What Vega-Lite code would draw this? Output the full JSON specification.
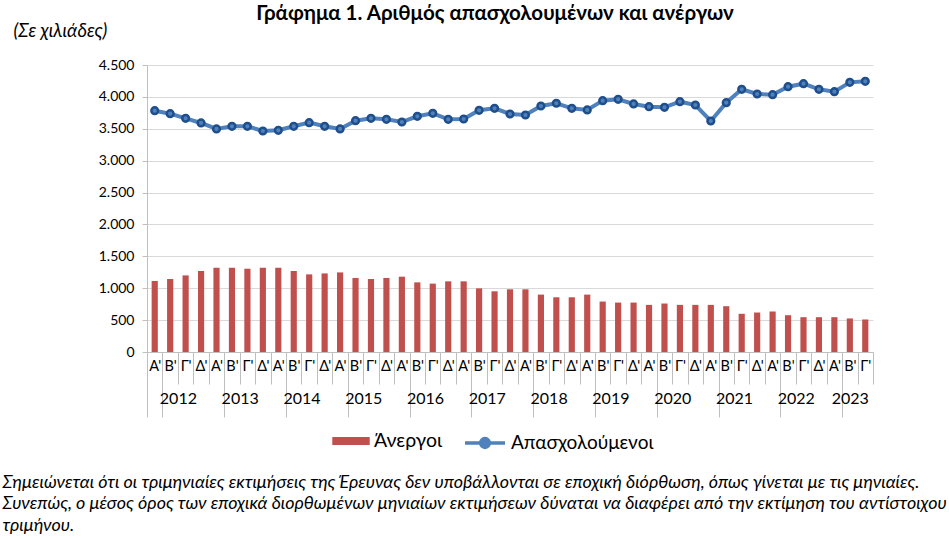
{
  "$schema": "https://vega.github.io/schema/vega-lite/v6.json",
  "width": 726,
  "height": 287,
  "autosize": {"type": "none"},
  "padding": {"left": 147, "top": 65, "right": 76, "bottom": 187},
  "background": "white",
  "config": {"view": {"stroke": null}, "font": "Lato"},
  "title": {"text": "Γράφημα 1. Αριθμός απασχολουμένων και ανέργων", "font": "Lato", "fontSize": 20.5, "fontWeight": "bold", "anchor": "middle", "dx": -15, "offset": -3, "color": "#000"},
  "data": {"values": [
    {"period": "2012 Α'", "employed": 3784, "unemployed": 1114},
    {"period": "2012 Β'", "employed": 3737, "unemployed": 1145},
    {"period": "2012 Γ'", "employed": 3664, "unemployed": 1201},
    {"period": "2012 Δ'", "employed": 3591, "unemployed": 1270},
    {"period": "2013 Α'", "employed": 3497, "unemployed": 1321},
    {"period": "2013 Β'", "employed": 3539, "unemployed": 1321},
    {"period": "2013 Γ'", "employed": 3539, "unemployed": 1306},
    {"period": "2013 Δ'", "employed": 3465, "unemployed": 1321},
    {"period": "2014 Α'", "employed": 3476, "unemployed": 1321},
    {"period": "2014 Β'", "employed": 3539, "unemployed": 1270},
    {"period": "2014 Γ'", "employed": 3596, "unemployed": 1217},
    {"period": "2014 Δ'", "employed": 3539, "unemployed": 1232},
    {"period": "2015 Α'", "employed": 3497, "unemployed": 1248},
    {"period": "2015 Β'", "employed": 3627, "unemployed": 1161},
    {"period": "2015 Γ'", "employed": 3664, "unemployed": 1145},
    {"period": "2015 Δ'", "employed": 3648, "unemployed": 1161},
    {"period": "2016 Α'", "employed": 3606, "unemployed": 1181},
    {"period": "2016 Β'", "employed": 3696, "unemployed": 1092},
    {"period": "2016 Γ'", "employed": 3743, "unemployed": 1072},
    {"period": "2016 Δ'", "employed": 3648, "unemployed": 1108},
    {"period": "2017 Α'", "employed": 3653, "unemployed": 1108},
    {"period": "2017 Β'", "employed": 3790, "unemployed": 998},
    {"period": "2017 Γ'", "employed": 3821, "unemployed": 952},
    {"period": "2017 Δ'", "employed": 3732, "unemployed": 983},
    {"period": "2018 Α'", "employed": 3716, "unemployed": 983},
    {"period": "2018 Β'", "employed": 3857, "unemployed": 900},
    {"period": "2018 Γ'", "employed": 3900, "unemployed": 858},
    {"period": "2018 Δ'", "employed": 3821, "unemployed": 858},
    {"period": "2019 Α'", "employed": 3795, "unemployed": 900},
    {"period": "2019 Β'", "employed": 3941, "unemployed": 791},
    {"period": "2019 Γ'", "employed": 3962, "unemployed": 775},
    {"period": "2019 Δ'", "employed": 3889, "unemployed": 775},
    {"period": "2020 Α'", "employed": 3847, "unemployed": 739},
    {"period": "2020 Β'", "employed": 3837, "unemployed": 760},
    {"period": "2020 Γ'", "employed": 3925, "unemployed": 739},
    {"period": "2020 Δ'", "employed": 3873, "unemployed": 739},
    {"period": "2021 Α'", "employed": 3622, "unemployed": 739},
    {"period": "2021 Β'", "employed": 3909, "unemployed": 718},
    {"period": "2021 Γ'", "employed": 4119, "unemployed": 599},
    {"period": "2021 Δ'", "employed": 4045, "unemployed": 619},
    {"period": "2022 Α'", "employed": 4035, "unemployed": 635},
    {"period": "2022 Β'", "employed": 4160, "unemployed": 577},
    {"period": "2022 Γ'", "employed": 4207, "unemployed": 546},
    {"period": "2022 Δ'", "employed": 4119, "unemployed": 546},
    {"period": "2023 Α'", "employed": 4082, "unemployed": 546},
    {"period": "2023 Β'", "employed": 4228, "unemployed": 526},
    {"period": "2023 Γ'", "employed": 4244, "unemployed": 510}
  ]},
  "resolve": {"axis": {"x": "independent"}},
  "layer": [
    {
      "mark": {"type": "bar", "width": {"band": 0.4}},
      "encoding": {
        "x": {"field": "period", "type": "ordinal", "sort": null,
          "scale": {"paddingInner": 0, "paddingOuter": 0},
          "axis": {"orient": "bottom", "title": null, "labelExpr": "datum.extra ? '' : substring(datum.value + '', 5)", "labelAngle": 0, "tickBand": "extent", "tickSize": 32, "tickColor": "#BFBFBF", "domainColor": "#BFBFBF", "labelPadding": -25, "labelFontSize": 14.5, "labelColor": "#000", "labelFont": "Lato", "labelOverlap": false, "labelBound": false, "grid": false}},
        "y": {"field": "unemployed", "type": "quantitative",
          "scale": {"domain": [0, 4500], "nice": false},
          "axis": {"title": "(Σε χιλιάδες)", "titleAngle": 0, "titleAlign": "left", "titleX": -134, "titleY": -35, "titleBaseline": "middle", "titleFontStyle": "italic", "titleFontWeight": "normal", "titleFontSize": 18.5, "titleColor": "#000", "titleFont": "Lato",
            "values": [0, 500, 1000, 1500, 2000, 2500, 3000, 3500, 4000, 4500], "tickCount": 10,
            "labelExpr": "replace(format(datum.value, ','), ',', '.')",
            "labelOverlap": false, "labelBound": false,
            "domainColor": "#BFBFBF", "tickColor": "#BFBFBF", "tickSize": 5, "grid": true, "gridColor": "#D9D9D9", "labelPadding": 8, "labelFontSize": 14, "labelColor": "#000", "labelFont": "Lato"}},
        "fill": {"datum": "Άνεργοι", "type": "nominal", "scale": {"range": ["#C0504D"]},
          "legend": {"orient": "none", "legendX": 185, "legendY": 357, "title": null, "symbolType": "M-1,-0.22H1V0.22H-1Z", "symbolSize": 1400, "symbolStrokeWidth": 0, "labelFontSize": 19.5, "labelFont": "Lato", "labelColor": "#000"}}
      }
    },
    {
      "mark": {"type": "line", "strokeWidth": 4},
      "encoding": {
        "x": {"field": "period", "type": "ordinal", "sort": null,
          "axis": {"orient": "bottom", "domain": false, "grid": false, "tickBand": "extent", "tickSize": 65, "tickColor": "#BFBFBF",
            "tickOpacity": {"condition": {"test": "datum.extra || indexof(datum.value + '', 'Α') >= 0", "value": 1}, "value": 0},
            "labelExpr": "indexof(datum.value + '', 'Β') >= 0 ? substring(datum.value + '', 0, 4) : ''",
            "labelOffset": {"condition": {"test": "indexof(datum.value + '', '2023') >= 0", "value": 0}, "value": 7.72},
            "labelAngle": 0, "labelPadding": -27, "labelFontSize": 16, "labelColor": "#000", "labelFont": "Lato", "labelOverlap": false, "labelBound": false,
            "title": ["Σημειώνεται ότι οι τριμηνιαίες εκτιμήσεις της Έρευνας δεν υποβάλλονται σε εποχική διόρθωση, όπως γίνεται με τις μηνιαίες.", "Συνεπώς, ο μέσος όρος των εποχικά διορθωμένων μηνιαίων εκτιμήσεων δύναται να διαφέρει από την εκτίμηση του αντίστοιχου", "τριμήνου."],
            "titleFontStyle": "italic", "titleFontWeight": "normal", "titleAlign": "left", "titleAnchor": "start", "titleX": -145, "titleY": 121, "titleBaseline": "top", "titleLineHeight": 21.5, "titleFontSize": 17.9, "titleColor": "#000", "titleFont": "Lato"}},
        "y": {"field": "employed", "type": "quantitative",
          "axis": {"title": "(Σε χιλιάδες)", "values": [0, 500, 1000, 1500, 2000, 2500, 3000, 3500, 4000, 4500], "tickCount": 10, "labelOverlap": false, "labelBound": false, "grid": true}},
        "stroke": {"datum": "Απασχολούμενοι", "type": "nominal", "scale": {"range": ["#4F81BD"]},
          "legend": {"orient": "none", "legendX": 316, "legendY": 356, "title": null, "symbolType": "M-1,0H-0.28M0.28,0H1M0.22,0A0.22,0.22,0,1,1,-0.22,0A0.22,0.22,0,1,1,0.22,0", "symbolSize": 1600, "symbolStrokeWidth": 3.5, "symbolFillColor": "#4F81BD", "labelFontSize": 19, "labelFont": "Lato", "labelColor": "#000"}}
      }
    },
    {
      "mark": {"type": "point", "filled": true, "fill": "#4F81BD", "stroke": "#1F4E8C", "strokeWidth": 2.5, "size": 45, "opacity": 1},
      "encoding": {
        "x": {"field": "period", "type": "ordinal", "sort": null, "axis": null},
        "y": {"field": "employed", "type": "quantitative",
          "axis": {"title": "(Σε χιλιάδες)", "values": [0, 500, 1000, 1500, 2000, 2500, 3000, 3500, 4000, 4500], "tickCount": 10, "labelOverlap": false, "labelBound": false, "grid": true}}
      }
    }
  ]
}
